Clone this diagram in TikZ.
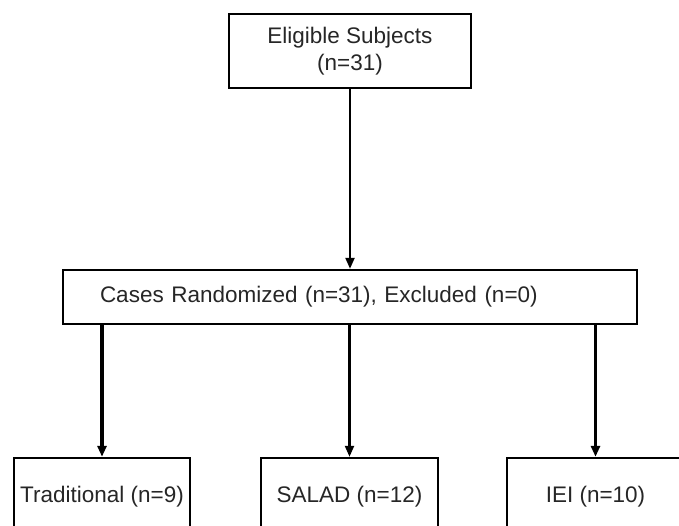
\documentclass[tikz,border=0pt]{standalone}
\usepackage{fontspec}
\setmainfont{Liberation Sans}
\usetikzlibrary{arrows.meta}
\begin{document}
\begin{tikzpicture}[x=1pt, y=-1pt,
  box/.style={draw, line width=2.4pt, rectangle, inner sep=0pt, align=center,
    font=\fontsize{22.5}{27}\selectfont, text=black!85},
  link/.style={line width=2.2pt, -{Triangle[length=11pt, width=9pt]}},
  thicklink/.style={link, line width=3.8pt}]
% Page size of the reference
\clip (0,0) rectangle (679,526);

% Draw the boxes
\node[box, minimum width=242pt, minimum height=74pt] (elig) at (350,51) {Eligible Subjects\\(n=31)};
\node[box, minimum width=574pt, minimum height=54pt, text width=500pt, align=left] (rand) at (350,297) {Cases Randomized (n=31), Excluded (n=0)};
\node[box, minimum width=176pt, minimum height=78pt] (trad) at (102,497) {Traditional (n=9)};
\node[box, minimum width=177pt, minimum height=78pt] (salad) at (349.5,497) {SALAD (n=12)};
\node[box, minimum width=177pt, minimum height=78pt] (iei) at (595.5,497) {IEI (n=10)};

% Draw the arrows
\draw[link] (elig.south) -- (rand.north);
\draw[thicklink] (rand.south -| trad.north) -- (trad.north);
\draw[link] (rand.south -| salad.north) -- (salad.north);
\draw[thicklink] (rand.south -| iei.north) -- (iei.north);
\end{tikzpicture}
\end{document}
